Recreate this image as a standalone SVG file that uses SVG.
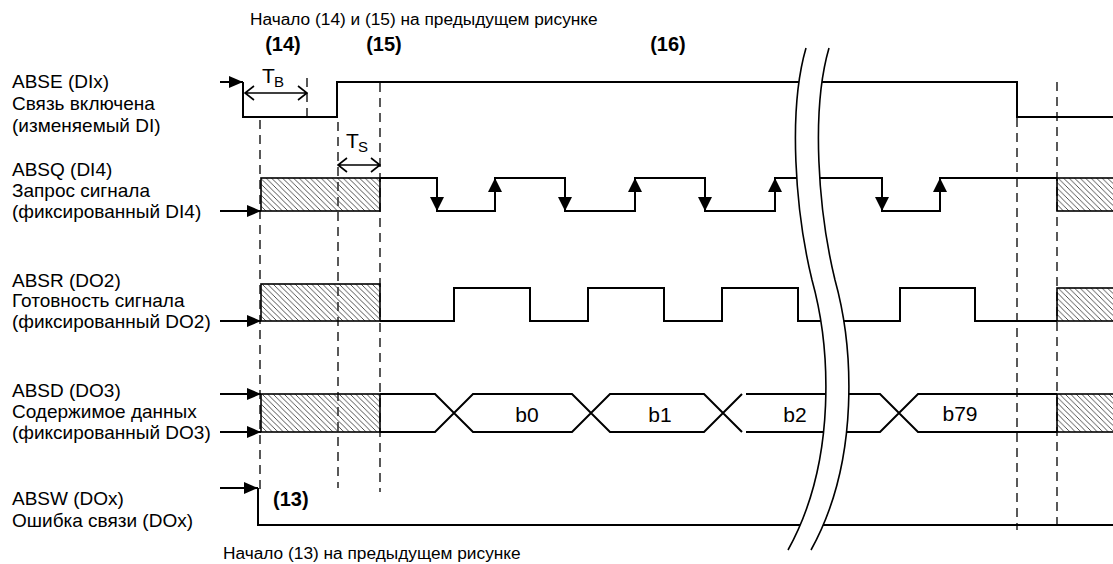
<svg xmlns="http://www.w3.org/2000/svg" xmlns:xlink="http://www.w3.org/1999/xlink" width="1113" height="564" viewBox="0 0 1113 564">
<style>
text{font-family:"Liberation Sans",Arial,sans-serif;fill:#000}
.lbl{font-size:19px}
.note{font-size:17.3px}
.num{font-size:20px;font-weight:bold}
.bit{font-size:21px}
.t{font-size:21px}
.sub{font-size:15px}
.sig{fill:none;stroke:#000;stroke-width:2;stroke-linejoin:miter}
.in{fill:none;stroke:#000;stroke-width:2}
.dash{fill:none;stroke:#000;stroke-width:1.3;stroke-dasharray:9 6}
.hatch{fill:url(#hp);stroke:#000;stroke-width:1.6}
.dim{fill:none;stroke:#000;stroke-width:1.6}
.brk{fill:none;stroke:#000;stroke-width:1.6}
</style>
<defs>
<pattern id="hp" patternUnits="userSpaceOnUse" width="5.5" height="5.5">
<path d="M-1,-1 L6.5,6.5 M-1,4.5 L1,6.5 M4.5,-1 L6.5,1" stroke="#333" stroke-width="0.85"/>
</pattern>
<marker id="ah" markerUnits="userSpaceOnUse" markerWidth="14" markerHeight="12" refX="14" refY="6" orient="auto">
<path d="M0,0 L14,6 L0,12 z" fill="#000"/>
</marker>
<path id="dn" d="M-7,-14 L7,-14 L0,0 z" fill="#000"/>
<path id="up" d="M-7,14 L7,14 L0,0 z" fill="#000"/>
</defs>

<g id="header">
<text class="note" x="250" y="25">Начало (14) и (15) на предыдущем рисунке</text>
<text class="num" x="283" y="51" text-anchor="middle">(14)</text>
<text class="num" x="384" y="51" text-anchor="middle">(15)</text>
<text class="num" x="668" y="51" text-anchor="middle">(16)</text>
</g>

<g id="labels">
<text class="lbl" x="12" y="88">ABSE (DIx)</text>
<text class="lbl" x="12" y="110">Связь включена</text>
<text class="lbl" x="12" y="132">(изменяемый DI)</text>
<text class="lbl" x="12" y="176">ABSQ (DI4)</text>
<text class="lbl" x="12" y="197">Запрос сигнала</text>
<text class="lbl" x="12" y="218">(фиксированный DI4)</text>
<text class="lbl" x="12" y="287">ABSR (DO2)</text>
<text class="lbl" x="12" y="307">Готовность сигнала</text>
<text class="lbl" x="12" y="328">(фиксированный DO2)</text>
<text class="lbl" x="12" y="397">ABSD (DO3)</text>
<text class="lbl" x="12" y="418">Содержимое данных</text>
<text class="lbl" x="12" y="439">(фиксированный DO3)</text>
<text class="lbl" x="12" y="505">ABSW (DOx)</text>
<text class="lbl" x="12" y="527">Ошибка связи (DOx)</text>
</g>

<g id="connectors">
<line class="dash" x1="260" y1="120" x2="260" y2="490"/>
<line class="dash" x1="307" y1="78" x2="307" y2="118"/>
<line class="dash" x1="338" y1="122" x2="338" y2="488"/>
<line class="dash" x1="380" y1="83" x2="380" y2="492"/>
<line class="dash" x1="1017" y1="118" x2="1017" y2="530"/>
<line class="dash" x1="1057" y1="82" x2="1057" y2="530"/>
<line class="in" x1="220" y1="82" x2="243" y2="82" marker-end="url(#ah)"/>
<line class="in" x1="220" y1="211" x2="261" y2="211" marker-end="url(#ah)"/>
<line class="in" x1="220" y1="321" x2="261" y2="321" marker-end="url(#ah)"/>
<line class="in" x1="220" y1="394" x2="261" y2="394" marker-end="url(#ah)"/>
<line class="in" x1="220" y1="432" x2="261" y2="432" marker-end="url(#ah)"/>
<line class="in" x1="220" y1="488" x2="258" y2="488" marker-end="url(#ah)"/>
</g>

<g id="tb">
<path class="dim" d="M245,93 H307 M254,86 L245,93 L254,100 M298,86 L307,93 L298,100"/>
<text class="t" x="262" y="83">T</text><text class="sub" x="274" y="87">B</text>
</g>
<g id="ts">
<path class="dim" d="M338,165 H380 M347,158 L338,165 L347,172 M371,158 L380,165 L371,172"/>
<text class="t" x="346" y="148">T</text><text class="sub" x="358" y="152">S</text>
</g>

<g id="abse">
<path class="sig" d="M243,82 V117 H337 V82 H1017 V117 H1115"/>
</g>

<g id="absq">
<rect class="hatch" x="261" y="178" width="119" height="33"/>
<rect class="hatch" x="1057" y="178" width="60" height="33"/>
<path class="sig" d="M380,178 H437 V211 H495 V178 H565 V211 H635 V178 H705 V211 H775 V178 H882 V211 H940 V178 H1057"/>
<use xlink:href="#dn" x="437" y="211"/>
<use xlink:href="#up" x="495" y="178"/>
<use xlink:href="#dn" x="565" y="211"/>
<use xlink:href="#up" x="635" y="178"/>
<use xlink:href="#dn" x="705" y="211"/>
<use xlink:href="#up" x="775" y="178"/>
<use xlink:href="#dn" x="882" y="211"/>
<use xlink:href="#up" x="940" y="178"/>
</g>

<g id="absr">
<rect class="hatch" x="261" y="284" width="119" height="37"/>
<rect class="hatch" x="1057" y="288" width="60" height="33"/>
<path class="sig" d="M380,321 H454 V288 H530 V321 H588 V288 H664 V321 H722 V288 H798 V321 H900 V288 H975 V321 H1057"/>
</g>

<g id="absd">
<rect class="hatch" x="261" y="394" width="119" height="38"/>
<rect class="hatch" x="1057" y="394" width="60" height="38"/>
<path class="sig" d="M380,394 H435 L473,432 H572 L610,394 H704 L742,432 M380,432 H435 L473,394 H572 L610,432 H704 L742,394 M746,394 H880 L918,432 H1057 M746,432 H880 L918,394 H1057"/>
<text class="bit" x="527" y="422" text-anchor="middle">b0</text>
<text class="bit" x="660" y="422" text-anchor="middle">b1</text>
<text class="bit" x="795" y="422" text-anchor="middle">b2</text>
<text class="bit" x="960" y="421" text-anchor="middle">b79</text>
</g>

<g id="absw">
<path class="sig" d="M258,488 V525 H1115" stroke-width="2.4"/>
<text class="num" x="273" y="506">(13)</text>
</g>

<g id="break">
<path d="M806,48 C788,110 795,210 812,280 C830,345 838,460 788,550 L811,550 C861,460 853,345 835,280 C818,210 811,110 829,48 Z" fill="#fff"/>
<path class="brk" d="M806,48 C788,110 795,210 812,280 C830,345 838,460 788,550"/>
<path class="brk" d="M829,48 C811,110 818,210 835,280 C853,345 861,460 811,550"/>
</g>

<g id="footer">
<text class="note" x="223" y="559">Начало (13) на предыдущем рисунке</text>
</g>
</svg>
